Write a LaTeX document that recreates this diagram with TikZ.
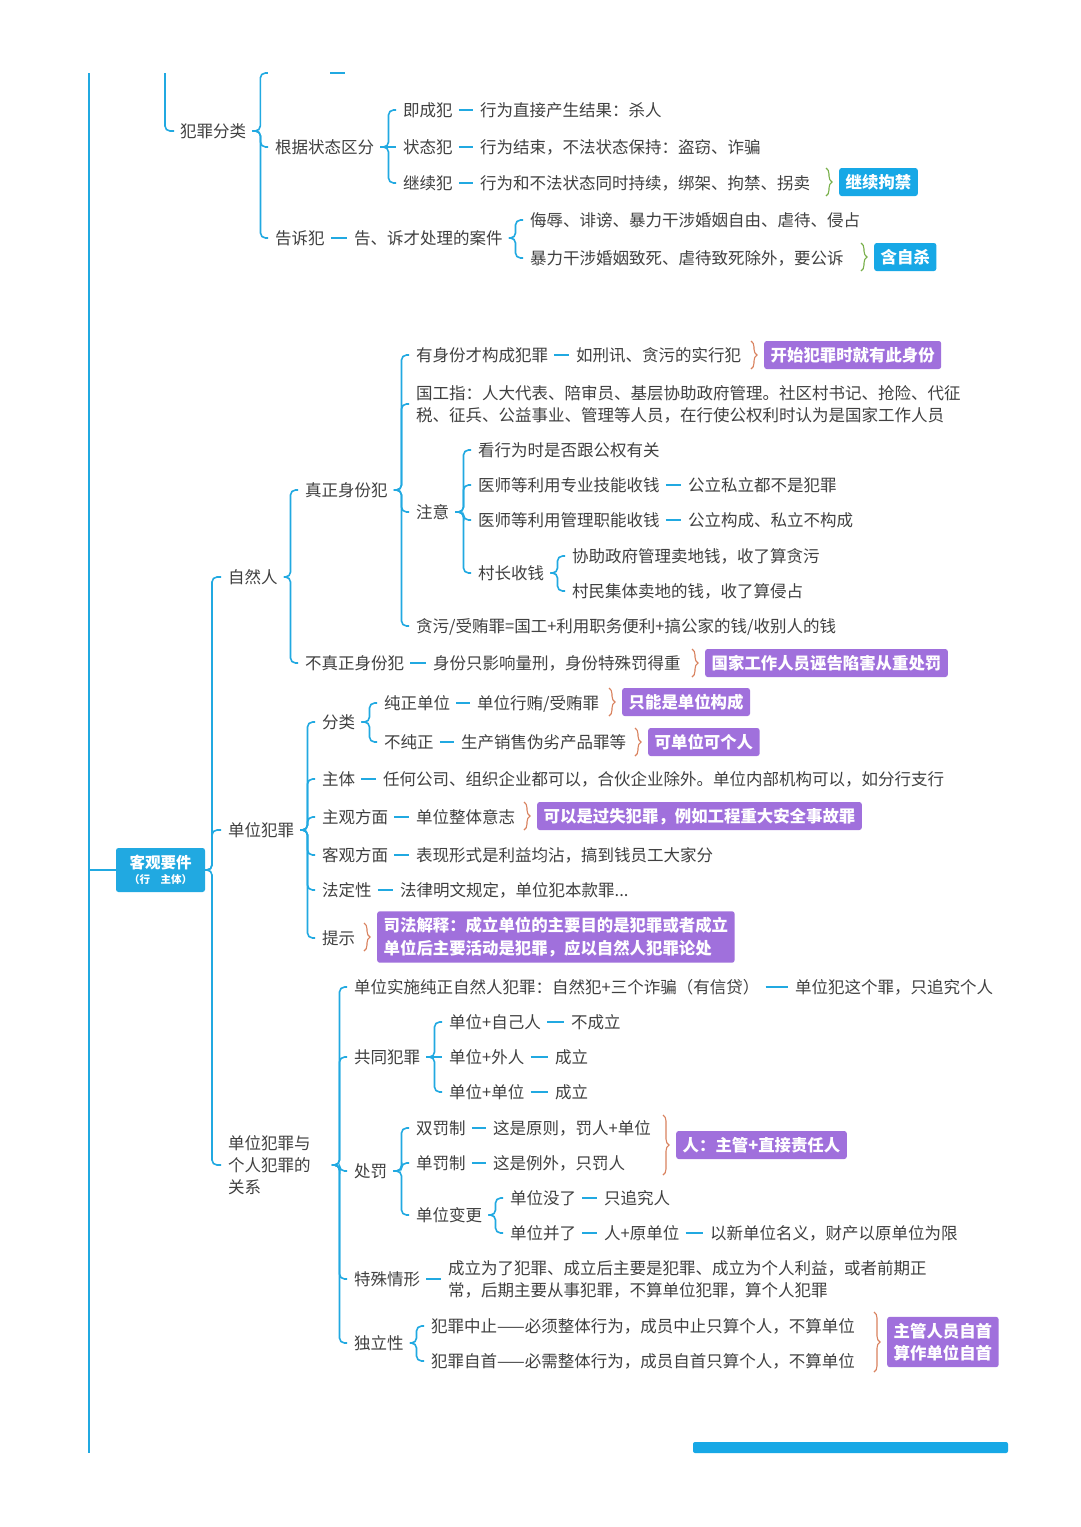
\documentclass[tikz,border=0pt]{standalone}
\usepackage{fontspec}
\setmainfont{Noto Sans CJK SC}
\usetikzlibrary{calc,decorations.pathreplacing}
\definecolor{lnc}{HTML}{21A9E1}
\definecolor{tagc}{HTML}{17A8E6}
\definecolor{tagp}{HTML}{A070DC}
\definecolor{brg}{HTML}{79B04A}
\definecolor{bro}{HTML}{D9825F}
\definecolor{txt}{HTML}{404040}
\tikzset{
 boff/.initial=14.5,
 tx/.style={anchor=west, inner xsep=0pt, inner ysep=0pt, text=txt, font=\fontsize{16.5}{22}\selectfont, text height=14pt, text depth=1.4pt},
 txm/.style={tx, text height=, text depth=, align=left},
 ln/.style={draw=lnc, line width=1.6pt, shorten <=6pt, shorten >=7pt},
 br/.style={ln, rounded corners=5pt},
 tagbase/.style={anchor=west, text=white, font=\bfseries\fontsize{16.4}{22.5}\selectfont, rounded corners=2.5pt, inner xsep=6.5pt, inner ysep=6.6pt, text height=13.5pt, text depth=1.3pt},
 tagC/.style={tagbase, fill=tagc},
 tagP/.style={tagbase, fill=tagp},
 tagm/.style={text height=, text depth=, align=left, inner ysep=6pt},
 brc/.style={draw=#1, line width=1.1pt, decorate, decoration={brace, amplitude=6pt}},
 cnode/.style={fill=lnc, rounded corners=2.5pt, text=white, minimum width=89pt, minimum height=44pt, inner sep=0pt, align=center, font=\bfseries\fontsize{15.5}{18}\selectfont},
}
\newcommand\kid[3][]{\draw[br,#1] (#2.east) -- ($(#2.east -| #3.west)+(-\pgfkeysvalueof{/tikz/boff},0)$) |- (#3.west);}
\newcommand\seq[2]{\draw[ln] (#1.east) -- (#2.west);}
\newcommand\bracefor[3]{\draw[brc=#1] ($(#2.west)+(-13,-#3)$) -- ($(#2.west)+(-13,#3)$);}
\begin{document}
\begin{tikzpicture}[x=1pt,y=-1pt]
\fill[white] (0,0) rectangle (1080,1527);
\useasboundingbox (0,0) rectangle (1080,1527);

% ---------- cut-off frame ----------
\coordinate (mtop) at (89,73);
\coordinate (mbot) at (89,1453);
\coordinate (mj) at (89,870);
\coordinate (ltop) at (165,73);
\node[inner sep=0pt, minimum size=0pt] (ctop) at (275,73) {};
\coordinate (dA) at (330,73);
\coordinate (dB) at (345,73);
\draw[draw=lnc, line width=2.6pt] (mtop) -- (mbot);
\draw[ln, shorten <=0pt, shorten >=0pt] (dA) -- (dB);

% ---------- top section ----------
\node[tx] (fzfl) at (180,131) {犯罪分类};
\node[tx] (gjzt) at (275,147) {根据状态区分};
\node[tx] (jcf) at (403,110) {即成犯};
\node[tx] (jcfb) at (480,110) {行为直接产生结果：杀人};
\node[tx] (ztf) at (403,147) {状态犯};
\node[tx] (ztfb) at (480,147) {行为结束，不法状态保持：盗窃、诈骗};
\node[tx] (jxf) at (403,183) {继续犯};
\node[tx] (jxfb) at (480,183) {行为和不法状态同时持续，绑架、拘禁、拐卖};
\node[tagC] (tg1) at (839,182) {继续拘禁};
\node[tx] (gsf) at (275,238) {告诉犯};
\node[tx] (gsfb) at (354,238) {告、诉才处理的案件};
\node[tx] (gsa) at (530,220) {侮辱、诽谤、暴力干涉婚姻自由、虐待、侵占};
\node[tx] (gsc) at (530,258) {暴力干涉婚姻致死、虐待致死除外，要公诉};
\node[tagC] (tg2) at (874,257) {含自杀};

\draw[br, shorten <=0pt, shorten >=6pt] (ltop) |- (fzfl.west);
\kid{fzfl}{ctop}
\kid{fzfl}{gjzt}
\kid{fzfl}{gsf}
\kid{gjzt}{jcf}
\draw[ln] (gjzt.east) -- (ztf.west);
\kid{gjzt}{jxf}
\seq{jcf}{jcfb}
\seq{ztf}{ztfb}
\seq{jxf}{jxfb}
\seq{gsf}{gsfb}
\kid{gsfb}{gsa}
\kid{gsfb}{gsc}
\bracefor{brg}{tg1}{14}
\bracefor{brg}{tg2}{14}

% ---------- centre ----------
\node[cnode] (ck) at (160.5,870) {客观要件\\[-3pt]{\fontsize{10.5}{13}\selectfont （行　主体）}};
\draw[ln, shorten <=0pt, shorten >=0pt] (mj) -- (ck.west);

% ---------- natural person ----------
\node[tx] (zrr) at (228,577) {自然人};
\node[tx] (zzsf) at (305,490) {真正身份犯};
\node[tx] (ysf) at (416,355) {有身份才构成犯罪};
\node[tx] (ysfb) at (576,355) {如刑讯、贪污的实行犯};
\node[tagP] (tg3) at (764,355) {开始犯罪时就有此身份};
\node[txm] (ggz) at (416,404) {国工指：人大代表、陪审员、基层协助政府管理。社区村书记、抢险、代征\\税、征兵、公益事业、管理等人员，在行使公权利时认为是国家工作人员};
\node[tx] (zy) at (416,512) {注意};
\node[tx] (kxw) at (478,450) {看行为时是否跟公权有关};
\node[tx] (ys1) at (478,485) {医师等利用专业技能收钱};
\node[tx] (ys1b) at (688,485) {公立私立都不是犯罪};
\node[tx] (ys2) at (478,520) {医师等利用管理职能收钱};
\node[tx] (ys2b) at (688,520) {公立构成、私立不构成};
\node[tx] (czsq) at (478,573) {村长收钱};
\node[tx] (cz1) at (572,556) {协助政府管理卖地钱，收了算贪污};
\node[tx] (cz2) at (572,591) {村民集体卖地的钱，收了算侵占};
\node[tx] (tw) at (416,626) {贪污/受贿罪=国工+利用职务便利+搞公家的钱/收别人的钱};
\node[tx] (bzz) at (305,663) {不真正身份犯};
\node[tx] (bzzb) at (433,663) {身份只影响量刑，身份特殊罚得重};
\node[tagP] (tg4) at (705,663) {国家工作人员诬告陷害从重处罚};

% ---------- unit crime ----------
\node[tx] (dwfz) at (228,830) {单位犯罪};
\node[tx] (fl) at (322,722) {分类};
\node[tx] (czdw) at (384,703) {纯正单位};
\node[tx] (czdwb) at (477,703) {单位行贿/受贿罪};
\node[tagP] (tg5) at (622,702) {只能是单位构成};
\node[tx] (bcz) at (384,742) {不纯正};
\node[tx] (bczb) at (461,742) {生产销售伪劣产品罪等};
\node[tagP] (tg6) at (648,742) {可单位可个人};
\node[tx] (zt) at (322,779) {主体};
\node[tx] (ztb) at (383,779) {任何公司、组织企业都可以，合伙企业除外。单位内部机构可以，如分行支行};
\node[tx] (zgfm) at (322,817) {主观方面};
\node[tx] (zgfmb) at (416,817) {单位整体意志};
\node[tagP] (tg7) at (537,816) {可以是过失犯罪，例如工程重大安全事故罪};
\node[tx] (kgfm) at (322,855) {客观方面};
\node[tx] (kgfmb) at (416,855) {表现形式是利益均沾，搞到钱员工大家分};
\node[tx] (fdx) at (322,890) {法定性};
\node[tx] (fdxb) at (400,890) {法律明文规定，单位犯本款罪...};
\node[tx] (ts) at (322,938) {提示};
\node[tagP, tagm] (tg8) at (377,937) {司法解释：成立单位的主要目的是犯罪或者成立\\单位后主要活动是犯罪，应以自然人犯罪论处};

% ---------- relation ----------
\node[txm] (gx) at (228,1165) {单位犯罪与\\个人犯罪的\\关系};
\node[tx] (ss) at (354,987) {单位实施纯正自然人犯罪：自然犯+三个诈骗（有信贷）};
\node[tx] (ssb) at (795,987) {单位犯这个罪，只追究个人};
\node[tx] (gtfz) at (354,1057) {共同犯罪};
\node[tx] (g1) at (449,1022) {单位+自己人};
\node[tx] (g1b) at (571,1022) {不成立};
\node[tx] (g2) at (449,1057) {单位+外人};
\node[tx] (g2b) at (555,1057) {成立};
\node[tx] (g3) at (449,1092) {单位+单位};
\node[tx] (g3b) at (555,1092) {成立};
\node[tx] (cf) at (354,1171) {处罚};
\node[tx] (sfz) at (416,1128) {双罚制};
\node[tx] (sfzb) at (493,1128) {这是原则，罚人+单位};
\node[tx] (dfz) at (416,1163) {单罚制};
\node[tx] (dfzb) at (493,1163) {这是例外，只罚人};
\node[tagP] (tg9) at (676,1145) {人：主管+直接责任人};
\node[tx] (dwbg) at (416,1215) {单位变更};
\node[tx] (mw) at (510,1198) {单位没了};
\node[tx] (mwb) at (604,1198) {只追究人};
\node[tx] (bl) at (510,1233) {单位并了};
\node[tx] (blb) at (604,1233) {人+原单位};
\node[tx] (blc) at (710,1233) {以新单位名义，财产以原单位为限};
\node[tx] (tsqx) at (354,1279) {特殊情形};
\node[txm] (tsqxb) at (448,1279) {成立为了犯罪、成立后主要是犯罪、成立为个人利益，或者前期正\\常，后期主要从事犯罪，不算单位犯罪，算个人犯罪};
\node[tx] (dlx) at (354,1343) {独立性};
\node[tx] (zz) at (431,1326) {犯罪中止——必须整体行为，成员中止只算个人，不算单位};
\node[tx] (zs) at (431,1361) {犯罪自首——必需整体行为，成员自首只算个人，不算单位};
\node[tagP, tagm] (tg10) at (887,1342) {主管人员自首\\算作单位自首};

% ---------- connectors ----------
\kid[boff=16, shorten <=0pt]{ck}{zrr}
\kid[boff=16, shorten <=0pt]{ck}{dwfz}
\kid[boff=16, shorten <=0pt]{ck}{gx}

\kid{zrr}{zzsf}
\kid{zrr}{bzz}
\kid{zzsf}{ysf}
\kid{zzsf}{ggz}
\kid{zzsf}{zy}
\kid{zzsf}{tw}
\seq{ysf}{ysfb}
\kid{zy}{kxw}
\kid{zy}{ys1}
\kid{zy}{ys2}
\kid{zy}{czsq}
\seq{ys1}{ys1b}
\seq{ys2}{ys2b}
\kid{czsq}{cz1}
\kid{czsq}{cz2}
\seq{bzz}{bzzb}
\bracefor{bro}{tg3}{14}
\bracefor{bro}{tg4}{14}

\kid{dwfz}{fl}
\kid{dwfz}{zt}
\kid{dwfz}{zgfm}
\kid{dwfz}{kgfm}
\kid{dwfz}{fdx}
\kid{dwfz}{ts}
\kid{fl}{czdw}
\kid{fl}{bcz}
\seq{czdw}{czdwb}
\seq{bcz}{bczb}
\seq{zt}{ztb}
\seq{zgfm}{zgfmb}
\seq{kgfm}{kgfmb}
\seq{fdx}{fdxb}
\bracefor{bro}{tg5}{14}
\bracefor{bro}{tg6}{14}
\bracefor{bro}{tg7}{14}
\bracefor{bro}{tg8}{14}

\kid[shorten <=21pt]{gx}{ss}
\kid[shorten <=21pt]{gx}{gtfz}
\kid[shorten <=21pt]{gx}{cf}
\kid[shorten <=21pt]{gx}{tsqx}
\kid[shorten <=21pt]{gx}{dlx}
\seq{ss}{ssb}
\kid{gtfz}{g1}
\draw[ln] (gtfz.east) -- (g2.west);
\kid{gtfz}{g3}
\seq{g1}{g1b}
\seq{g2}{g2b}
\seq{g3}{g3b}
\kid{cf}{sfz}
\kid{cf}{dfz}
\kid{cf}{dwbg}
\seq{sfz}{sfzb}
\seq{dfz}{dfzb}
\kid{dwbg}{mw}
\kid{dwbg}{bl}
\seq{mw}{mwb}
\seq{bl}{blb}
\seq{blb}{blc}
\seq{tsqx}{tsqxb}
\kid{dlx}{zz}
\kid{dlx}{zs}
\bracefor{bro}{tg9}{30}
\bracefor{bro}{tg10}{30}

% ---------- bottom bar (next block, cut off) ----------
\fill[tagc, rounded corners=2pt] (693,1442) rectangle (1008,1453);
\end{tikzpicture}
\end{document}
